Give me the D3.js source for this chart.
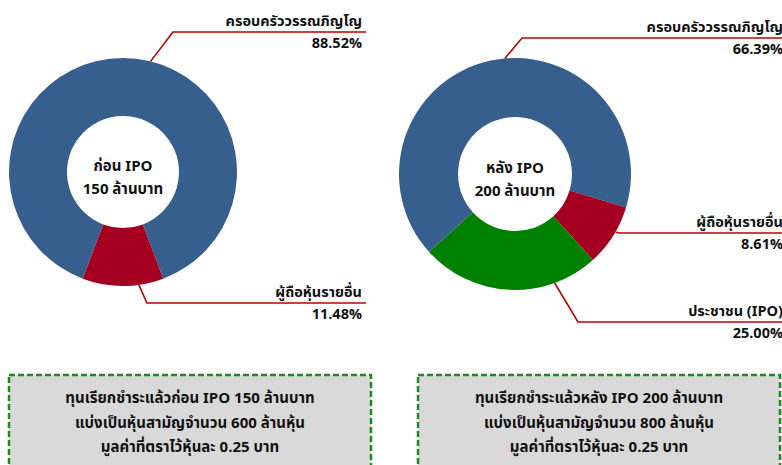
<!DOCTYPE html>
<html>
<head>
<meta charset="utf-8">
<script src="https://cdn.jsdelivr.net/npm/d3@7"></script>
<style>
  body { margin: 0; background: #fff; }
  svg text { font-family: Tahoma, "Noto Sans Thai", "Noto Sans", "DejaVu Sans", sans-serif; font-weight: bold; fill: #111; }
</style>
</head>
<body>
<svg id="chart"></svg>
<script>
const W = 782, H = 465;

// data
const beforeLabels = ["ครอบครัววรรณภิญโญ", "ผู้ถือหุ้นรายอื่น"];
const beforeValues = [88.52, 11.48];
const afterLabels = ["ครอบครัววรรณภิญโญ", "ผู้ถือหุ้นรายอื่น", "ประชาชน (IPO)"];
const afterValues = [66.39, 8.61, 25.00];
const beforeCenter = ["ก่อน IPO", "150 ล้านบาท"];
const afterCenter = ["หลัง IPO", "200 ล้านบาท"];
const beforeNote = ["ทุนเรียกชำระแล้วก่อน IPO 150 ล้านบาท", "แบ่งเป็นหุ้นสามัญจำนวน 600 ล้านหุ้น", "มูลค่าที่ตราไว้หุ้นละ 0.25 บาท"];
const afterNote = ["ทุนเรียกชำระแล้วหลัง IPO 200 ล้านบาท", "แบ่งเป็นหุ้นสามัญจำนวน 800 ล้านหุ้น", "มูลค่าที่ตราไว้หุ้นละ 0.25 บาท"];

const colors = ["#375f8e", "#a50021", "#008000"];
const lineColor = "#c00000";

const svg = d3.select("#chart").attr("width", W).attr("height", H);

// one donut with its leader labels
function drawDonut(opt) {
  const g = svg.append("g").attr("transform", `translate(${opt.cx},${opt.cy})`);
  const rad = d => d * Math.PI / 180;

  const pie = d3.pie().sort(null)
    .startAngle(rad(opt.start))
    .endAngle(rad(opt.start) + 2 * Math.PI);
  const arc = d3.arc().innerRadius(opt.inner).outerRadius(opt.outer);

  const arcs = pie(opt.values);
  g.selectAll("path.slice")
    .data(arcs)
    .enter()
    .append("path")
      .attr("class", "slice")
      .attr("d", arc)
      .attr("fill", (d, i) => colors[i]);

  g.selectAll("text.center")
    .data(opt.center)
    .enter()
    .append("text")
      .attr("text-anchor", "middle")
      .attr("x", 0)
      .attr("y", (d, i) => -1 + i * 23)
      .style("font-size", "15px")
      .text(d => d);

  // leader lines
  opt.leaders.forEach((ld, i) => {
    const a = rad(ld.angle);
    const sx = opt.cx + Math.sin(a) * opt.outer;
    const sy = opt.cy - Math.cos(a) * opt.outer;
    svg.append("polyline")
      .attr("points", `${sx},${sy} ${ld.ex},${ld.ey} ${opt.lineEnd},${ld.ey}`)
      .attr("fill", "none")
      .attr("stroke", lineColor)
      .attr("stroke-width", 1.6);
    svg.append("text")
      .attr("text-anchor", "end")
      .attr("x", opt.textEnd)
      .attr("y", ld.ey - 6)
      .style("font-size", "14.5px")
      .text(opt.labels[i]);
    svg.append("text")
      .attr("text-anchor", "end")
      .attr("x", opt.textEnd)
      .attr("y", ld.ey + 16)
      .style("font-size", "14.5px")
      .text(d3.format(".2f")(opt.values[i]) + "%");
  });
}

drawDonut({
  cx: 123, cy: 172, outer: 114, inner: 56, start: 200.66,
  values: beforeValues, labels: beforeLabels, center: beforeCenter,
  lineEnd: 366, textEnd: 362,
  leaders: [{ angle: 14, ex: 173, ey: 32 }, { angle: 172, ex: 147, ey: 303 }]
});

drawDonut({
  cx: 515, cy: 174, outer: 116, inner: 57, start: 227.8,
  values: afterValues, labels: afterLabels, center: afterCenter,
  lineEnd: 790, textEnd: 783,
  leaders: [{ angle: -5, ex: 522, ey: 38 }, { angle: 120, ex: 619, ey: 233 }, { angle: 160, ex: 578, ey: 322 }]
});

// note boxes
function drawNote(x, w, lines) {
  svg.append("rect")
    .attr("x", x).attr("y", 375)
    .attr("width", w).attr("height", 92)
    .attr("fill", "#d9d9d9")
    .attr("stroke", "#1a8c1a")
    .attr("stroke-width", 2.5)
    .attr("stroke-dasharray", "6,3");
  svg.selectAll(null)
    .data(lines)
    .enter()
    .append("text")
      .attr("text-anchor", "middle")
      .attr("x", x + w / 2)
      .attr("y", (d, i) => 403 + i * 24.5)
      .style("font-size", "15px")
      .text(d => d);
}

drawNote(9, 362, beforeNote);
drawNote(418, 362, afterNote);
</script>
</body>
</html>
